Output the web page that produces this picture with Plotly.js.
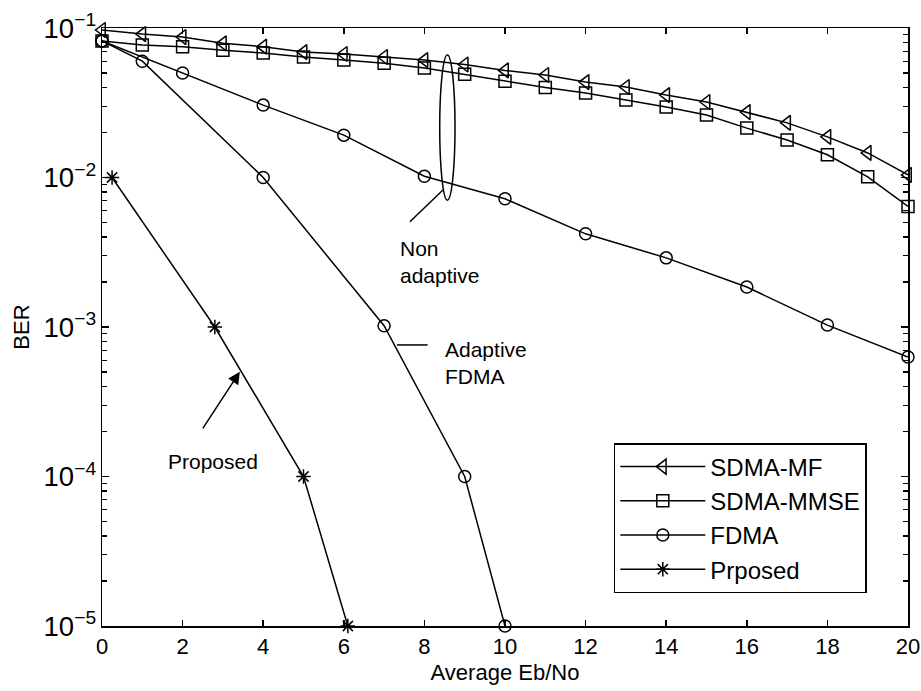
<!DOCTYPE html>
<html>
<head>
<meta charset="utf-8">
<script src="https://cdn.plot.ly/plotly-3.0.1.min.js"></script>
<style>html,body{margin:0;padding:0;background:#fff;} #chart{width:921px;height:691px;}</style>
</head>
<body>
<div id="chart"></div>
<script>
// ---- data ----
const ebnoSDMA = [0,1,2,3,4,5,6,7,8,9,10,11,12,13,14,15,16,17,18,19,20];
const berSDMAMF = [0.097,0.091,0.087,0.079,0.075,0.069,0.067,0.064,0.061,0.057,0.052,0.0485,0.0435,0.0403,0.0356,0.032,0.0274,0.0232,0.0187,0.0146,0.0104];
const berSDMAMMSE = [0.082,0.077,0.075,0.071,0.068,0.064,0.061,0.058,0.054,0.049,0.044,0.040,0.0367,0.033,0.0296,0.0262,0.0214,0.0178,0.0142,0.0101,0.0064];
const ebnoFDMA = [0,2,4,6,8,10,12,14,16,18,20];
const berFDMA = [0.082,0.050,0.0305,0.0192,0.0102,0.0072,0.0042,0.0029,0.00185,0.00103,0.00063];
const ebnoFDMAAdaptive = [0,1,4,7,9,10];
const berFDMAAdaptive = [0.082,0.060,0.0100,0.00102,0.0001,0.00001];
const ebnoProposed = [0.25,2.8,5.0,6.1];
const berProposed = [0.01,0.001,0.0001,0.00001];
const legendNames = ['SDMA-MF','SDMA-MMSE','FDMA','Prposed'];
const xTicks = [0,2,4,6,8,10,12,14,16,18,20];

const FONT = 'Liberation Sans, Arial, Helvetica, sans-serif';
const lineStyle = {color:'black', width:1.5};
function mk(sym, size){ return {symbol:sym, size:size, color:'black', line:{color:'black', width:1.5}}; }

const traces = [
  {x:ebnoSDMA, y:berSDMAMF, name:legendNames[0], mode:'lines+markers', line:lineStyle, marker:mk('triangle-left-open',13), cliponaxis:false},
  {x:ebnoSDMA, y:berSDMAMMSE, name:legendNames[1], mode:'lines+markers', line:lineStyle, marker:mk('square-open',12), cliponaxis:false},
  {x:ebnoFDMA, y:berFDMA, name:legendNames[2], mode:'lines+markers', line:lineStyle, marker:mk('circle-open',12), cliponaxis:false},
  {x:ebnoFDMAAdaptive, y:berFDMAAdaptive, name:legendNames[2], showlegend:false, mode:'lines+markers', line:lineStyle, marker:mk('circle-open',12), cliponaxis:false},
  {x:ebnoProposed, y:berProposed, name:legendNames[3], mode:'lines+markers', line:lineStyle, marker:mk('asterisk-open',12), cliponaxis:false}
];

const layout = {
  width:921, height:691,
  margin:{l:102, r:13, t:28, b:65},
  paper_bgcolor:'white', plot_bgcolor:'white',
  font:{family:FONT, size:21, color:'black'},
  showlegend:true,
  legend:{x:0.635, y:0.306, xanchor:'left', yanchor:'top', bgcolor:'white', bordercolor:'black', borderwidth:1.5,
          font:{family:FONT, size:24, color:'black'}, itemwidth:85},
  xaxis:{
    range:[0,20], tickmode:'array', tickvals:xTicks, ticks:'inside', ticklen:6, tickwidth:1.5, tickcolor:'black',
    showline:true, linecolor:'black', linewidth:1.5, mirror:'allticks', showgrid:false, zeroline:false,
    tickfont:{family:FONT, size:22}, title:{text:'Average Eb/No', font:{family:FONT, size:22}, standoff:6}
  },
  yaxis:{
    type:'log', range:[-5,-1], tickmode:'linear', tick0:0, dtick:1, exponentformat:'power', showexponent:'all',
    ticks:'inside', ticklen:7, tickwidth:1.5, tickcolor:'black',
    minor:{dtick:'D1', ticks:'inside', ticklen:5, tickcolor:'black', tickwidth:1.2, showgrid:false},
    showline:true, linecolor:'black', linewidth:1.5, mirror:'allticks', showgrid:false, zeroline:false,
    tickfont:{family:FONT, size:22}, title:{text:'BER', font:{family:FONT, size:22}, standoff:8}
  },
  shapes:[
    {type:'circle', xref:'paper', yref:'paper', x0:0.419, x1:0.438, y0:0.712, y1:0.955, line:{color:'black', width:1.5}},
    {type:'line', xref:'paper', yref:'paper', x0:0.382, x1:0.423, y0:0.676, y1:0.729, line:{color:'black', width:1.5}},
    {type:'line', xref:'paper', yref:'paper', x0:0.366, x1:0.404, y0:0.470, y1:0.470, line:{color:'black', width:1.5}}
  ],
  annotations:[
    {xref:'x', yref:'y', x:7.34, y:-2.565, xanchor:'left', yanchor:'middle', align:'left', showarrow:false, text:'Non<br>adaptive', font:{family:FONT, size:21}},
    {xref:'x', yref:'y', x:8.46, y:-3.24, xanchor:'left', yanchor:'middle', align:'left', showarrow:false, text:'Adaptive<br>FDMA', font:{family:FONT, size:21}},
    {xref:'x', yref:'y', x:2.75, y:-3.90, xanchor:'center', yanchor:'middle', showarrow:false, text:'Proposed', font:{family:FONT, size:21}},
    {xref:'x', yref:'y', x:3.42, y:-3.30, text:'', showarrow:true, arrowhead:2, arrowsize:1.6, arrowwidth:1.5, arrowcolor:'black', ax:-38, ay:58}
  ]
};

Plotly.newPlot('chart', traces, layout, {staticPlot:true, displayModeBar:false});
</script>
</body>
</html>
